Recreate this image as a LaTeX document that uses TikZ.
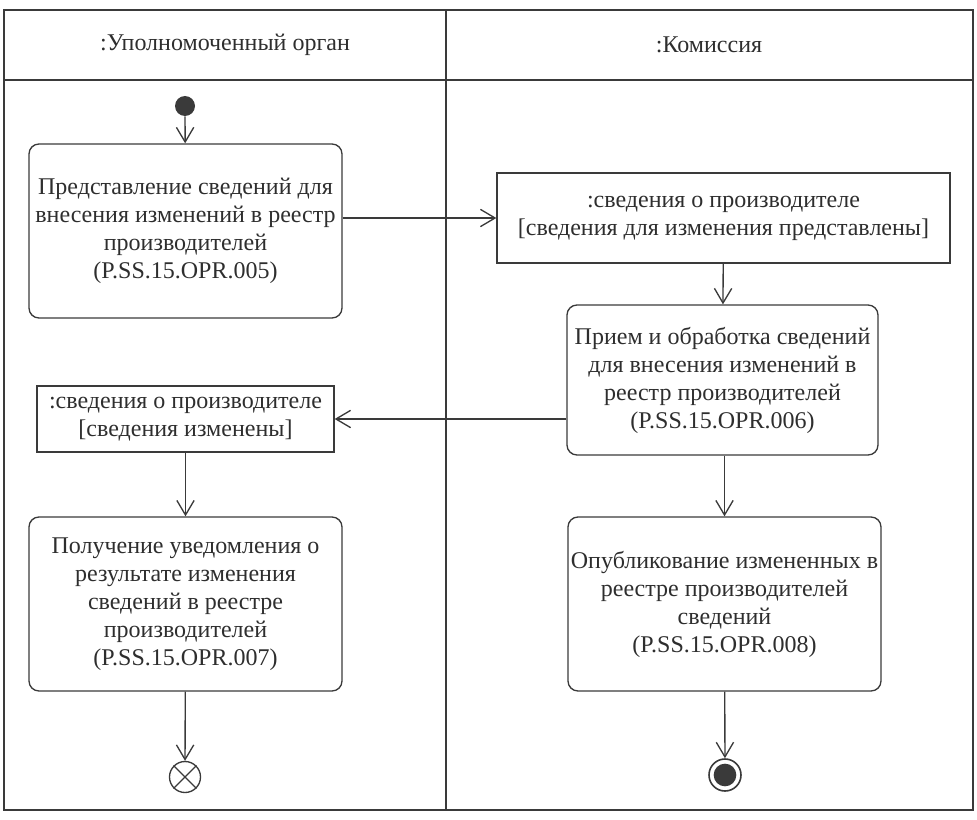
\documentclass[tikz,border=0pt]{standalone}
\usepackage{fontspec}
\setmainfont{Liberation Serif}
\usetikzlibrary{arrows.meta}
\definecolor{ln}{HTML}{3A3A3A}
\definecolor{tx}{HTML}{2E2E2E}
\def\PX{0.75pt}
\tikzset{
  lane/.style={draw=ln, line width=1.4pt},
  action/.style={draw=ln, line width=1pt, rounded corners=7.5pt, align=center, inner sep=0pt, text=tx},
  object/.style={draw=ln, line width=1pt, align=center, inner sep=0pt, text=tx},
  head/.style={text=tx, inner sep=0pt},
  arr/.style={draw=ln, line width=1pt, -{Straight Barb[length=11pt, width=13pt, line width=1pt]}},
}
\begin{document}
\begin{tikzpicture}[x=0.75pt, y=-0.75pt, font=\fontsize{18}{21}\selectfont]
\useasboundingbox (0,0) rectangle (977,820);
% swimlanes
\draw[lane] (4,10) rectangle (973,810);
\draw[lane] (4,80) -- (973,80);
\draw[lane] (446,10) -- (446,810);
\node[head] (h1) at (225,45) {:Уполномоченный орган};
\node[head] (h2) at (709,45) {:Комиссия};
% nodes
\node[circle, fill=ln, minimum size=20*\PX, inner sep=0pt] (init) at (185,106) {};
\node[action, minimum width=313*\PX, minimum height=174*\PX] (a1) at (185.5,231)
  {Представление сведений для\\внесения изменений в реестр\\производителей\\(P.SS.15.OPR.005)};
\node[object, minimum width=453*\PX, minimum height=90*\PX] (o1) at (723.5,218)
  {:сведения о производителе\\{[}сведения для изменения представлены{]}};
\node[action, minimum width=311*\PX, minimum height=150*\PX] (a2) at (722.5,380)
  {Прием и обработка сведений\\для внесения изменений в\\реестр производителей\\(P.SS.15.OPR.006)};
\node[object, minimum width=297*\PX, minimum height=66*\PX] (o2) at (185.5,419)
  {:сведения о производителе\\{[}сведения изменены{]}};
\node[action, minimum width=313*\PX, minimum height=174*\PX] (a3) at (185.5,604)
  {Получение уведомления о\\результате изменения\\сведений в реестре\\производителей\\(P.SS.15.OPR.007)};
\node[action, minimum width=313*\PX, minimum height=174*\PX] (a4) at (724.5,604)
  {Опубликование измененных в\\реестре производителей\\сведений\\(P.SS.15.OPR.008)};
\node[circle, draw=ln, line width=1pt, minimum size=31*\PX, inner sep=0pt] (ff) at (185,777) {};
\draw[ln, line width=1pt] (ff.45) -- (ff.225) (ff.135) -- (ff.315);
\node[circle, draw=ln, line width=1.2pt, minimum size=32*\PX, inner sep=0pt] (af) at (725,775) {};
\fill[ln] (af.center) circle (8.5pt);
% connectors
\draw[arr] (init) -- (a1);
\draw[arr] (o1.west -| a1.east) -- (o1.west);
\draw[arr] (o1) -- (a2);
\draw[arr] (o2.east -| a2.west) -- (o2.east);
\draw[arr] (o2) -- (a3);
\draw[arr] (a2.south -| a4.north) -- (a4.north);
\draw[arr] (a3) -- (ff);
\draw[arr] (a4) -- (af);
\end{tikzpicture}
\end{document}
